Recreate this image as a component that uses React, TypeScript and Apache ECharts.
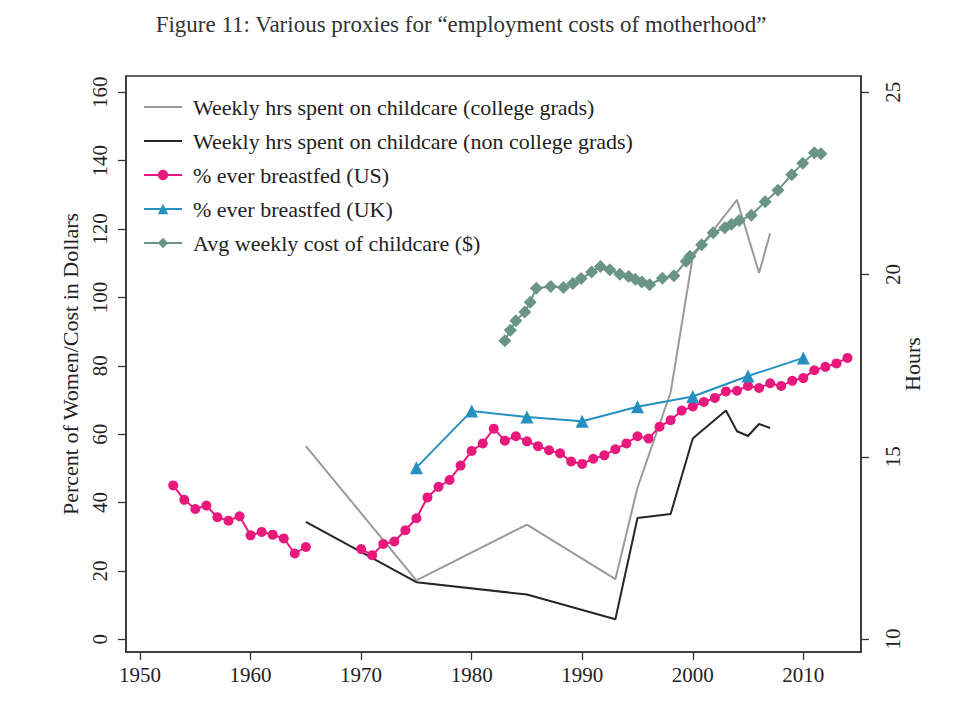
import React, { useEffect, useRef } from "react";
import * as echarts from "echarts";

const TITLE = "Figure 11: Various proxies for \u201cemployment costs of motherhood\u201d";

const xTicks = [1950, 1960, 1970, 1980, 1990, 2000, 2010];
const leftTicks = [0, 20, 40, 60, 80, 100, 120, 140, 160];
const rightTicks = [10, 15, 20, 25];

// Weekly hrs spent on childcare (hours, right axis)
const collegeYears = [1965, 1975, 1985, 1993, 1995, 1998, 2000, 2004, 2006, 2007];
const collegeHours = [15.29, 11.61, 13.14, 11.64, 14.15, 16.77, 20.49, 22.05, 20.04, 21.13];

const nonCollegeYears = [1965, 1975, 1985, 1993, 1995, 1998, 2000, 2003, 2004, 2005, 2006, 2007];
const nonCollegeHours = [13.21, 11.56, 11.22, 10.54, 13.32, 13.43, 15.5, 16.27, 15.7, 15.57, 15.9, 15.79];

// % ever breastfed (US)
const usYears = [
  1953, 1954, 1955, 1956, 1957, 1958, 1959, 1960, 1961, 1962, 1963, 1964, 1965, 1966,
  1970, 1971, 1972, 1973, 1974, 1975, 1976, 1977, 1978, 1979, 1980, 1981, 1982, 1983,
  1984, 1985, 1986, 1987, 1988, 1989, 1990, 1991, 1992, 1993, 1994, 1995, 1996, 1997,
  1998, 1999, 2000, 2001, 2002, 2003, 2004, 2005, 2006, 2007, 2008, 2009, 2010, 2011,
  2012, 2013, 2014,
];
const usValues: (number | null)[] = [
  45.0, 40.8, 38.1, 39.1, 35.7, 34.7, 36.0, 30.4, 31.4, 30.6, 29.5, 25.1, 27.0, null,
  26.4, 24.6, 27.9, 28.6, 31.9, 35.4, 41.5, 44.6, 46.6, 50.8, 55.1, 57.3, 61.6, 58.1,
  59.4, 57.9, 56.5, 55.3, 54.4, 52.0, 51.3, 52.8, 53.8, 55.6, 57.3, 59.4, 58.7, 62.2,
  64.1, 66.9, 68.1, 69.4, 70.6, 72.5, 72.7, 74.1, 73.5, 74.9, 74.1, 75.6, 76.4, 78.7,
  79.7, 80.7, 82.3,
];

// % ever breastfed (UK)
const ukYears = [1975, 1980, 1985, 1990, 1995, 2000, 2005, 2010];
const ukValues = [50.2, 66.8, 65.0, 63.8, 68.0, 71.0, 77.0, 82.3];

// Avg weekly cost of childcare ($)
const costYears = [
  1983.0, 1983.5, 1984.0, 1984.8, 1985.3, 1985.85, 1987.15, 1988.3, 1989.15, 1989.9,
  1990.85, 1991.65, 1992.5, 1993.4, 1994.2, 1994.8, 1995.4, 1996.1, 1997.25, 1998.3,
  1999.4, 1999.75, 2000.8, 2001.85, 2002.9, 2003.5, 2004.2, 2005.3, 2006.55, 2007.7,
  2008.95, 2009.95, 2011.0, 2011.6,
];
const costValues = [
  87.3, 90.4, 93.2, 95.7, 98.6, 102.7, 103.2, 102.9, 104.1, 105.5,
  107.4, 109.0, 108.1, 106.8, 106.1, 105.3, 104.5, 103.7, 105.6, 106.3,
  110.6, 112.0, 115.4, 118.9, 120.4, 121.4, 122.5, 124.0, 128.0, 131.3,
  135.9, 139.2, 142.3, 142.0,
];

const pairs = (xs: number[], ys: (number | null)[]) =>
  xs.map((x, i) => [x, ys[i] === null ? "-" : ys[i]]);

const FONT = "Liberation Serif";
const TXT = "#222";
const LINE_ICON = "path://M0,0 L40,0 L40,2 L0,2 Z";

export default function App() {
  const ref = useRef<HTMLDivElement>(null);
  useEffect(() => {
    if (!ref.current) return;
    const chart = echarts.init(ref.current, null, { renderer: "svg" });
    chart.setOption({
      animation: false,
      backgroundColor: "#fff",
      textStyle: { fontFamily: FONT },
      title: {
        text: TITLE,
        left: 456,
        top: 8,
        textAlign: "center",
        textStyle: { fontFamily: FONT, fontSize: 23, fontWeight: "normal", color: "#333" },
      },
      legend: {
        orient: "vertical",
        left: 138,
        top: 91,
        itemWidth: 38,
        itemHeight: 13,
        itemGap: 12,
        textStyle: { fontFamily: FONT, fontSize: 22, color: TXT, lineHeight: 22, padding: [0, 0, 0, 6] },
        data: [
          { name: "Weekly hrs spent on childcare (college grads)", icon: LINE_ICON },
          { name: "Weekly hrs spent on childcare (non college grads)", icon: LINE_ICON },
          { name: "% ever breastfed (US)" },
          { name: "% ever breastfed (UK)" },
          { name: "Avg weekly cost of childcare ($)" },
        ],
      },
      grid: {
        left: 126,
        top: 76,
        width: 735,
        height: 576,
        show: true,
        borderColor: "#333",
        borderWidth: 1.5,
        backgroundColor: "transparent",
      },
      xAxis: {
        type: "value",
        min: 1948.73,
        max: 2015.22,
        axisLine: { show: true, onZero: false, lineStyle: { color: "#333", width: 1.5 } },
        axisTick: { show: true, length: 8, customValues: xTicks, lineStyle: { color: "#333", width: 1.3 } },
        axisLabel: {
          customValues: xTicks,
          formatter: (v: number) => String(v),
          margin: 12,
          fontFamily: FONT,
          fontSize: 21,
          color: TXT,
        },
        splitLine: { show: false },
      },
      yAxis: [
        {
          type: "value",
          min: -3.71,
          max: 164.75,
          position: "left",
          name: "Percent of Women/Cost in Dollars",
          nameLocation: "middle",
          nameRotate: 90,
          nameGap: 43,
          nameTextStyle: { fontFamily: FONT, fontSize: 22, color: TXT },
          axisLine: { show: true, onZero: false, lineStyle: { color: "#333", width: 1.5 } },
          axisTick: { show: true, length: 8, customValues: leftTicks, lineStyle: { color: "#333", width: 1.3 } },
          axisLabel: {
            customValues: leftTicks,
            formatter: (v: number) => String(v),
            rotate: 90,
            margin: 16,
            fontFamily: FONT,
            fontSize: 21,
            color: TXT,
          },
          splitLine: { show: false },
        },
        {
          type: "value",
          min: 9.643,
          max: 25.447,
          position: "right",
          name: "Hours",
          nameLocation: "middle",
          nameRotate: 90,
          nameGap: 40,
          nameMoveOverlap: false,
          nameTextStyle: { fontFamily: FONT, fontSize: 22, color: TXT },
          axisLine: { show: true, onZero: false, lineStyle: { color: "#333", width: 1.5 } },
          axisTick: { show: true, length: 8, customValues: rightTicks, lineStyle: { color: "#333", width: 1.3 } },
          axisLabel: {
            customValues: rightTicks,
            formatter: (v: number) => String(v),
            rotate: 90,
            margin: 21,
            fontFamily: FONT,
            fontSize: 21,
            color: TXT,
          },
          splitLine: { show: false },
        },
      ],
      series: [
        {
          name: "Weekly hrs spent on childcare (college grads)",
          type: "line",
          yAxisIndex: 1,
          data: pairs(collegeYears, collegeHours),
          symbol: "none",
          lineStyle: { color: "#9a9a9a", width: 2 },
          itemStyle: { color: "#9a9a9a" },
          z: 2,
        },
        {
          name: "Weekly hrs spent on childcare (non college grads)",
          type: "line",
          yAxisIndex: 1,
          data: pairs(nonCollegeYears, nonCollegeHours),
          symbol: "none",
          lineStyle: { color: "#262626", width: 2 },
          itemStyle: { color: "#262626" },
          z: 2,
        },
        {
          name: "% ever breastfed (US)",
          type: "line",
          data: pairs(usYears, usValues),
          symbol: "circle",
          symbolSize: 10,
          connectNulls: false,
          lineStyle: { color: "#e8187c", width: 2 },
          itemStyle: { color: "#e8187c" },
          z: 3,
        },
        {
          name: "% ever breastfed (UK)",
          type: "line",
          data: pairs(ukYears, ukValues),
          symbol: "triangle",
          symbolSize: 13,
          lineStyle: { color: "#2590bf", width: 2 },
          itemStyle: { color: "#2590bf" },
          z: 3,
        },
        {
          name: "Avg weekly cost of childcare ($)",
          type: "line",
          data: pairs(costYears, costValues),
          symbol: "diamond",
          symbolSize: 13,
          lineStyle: { color: "#6a9483", width: 2 },
          itemStyle: { color: "#6a9483" },
          z: 3,
        },
      ],
    });
    return () => chart.dispose();
  }, []);
  return (
    <div
      ref={ref}
      style={{ position: "fixed", left: 0, top: 0, width: 959, height: 712, background: "#fff" }}
    />
  );
}
